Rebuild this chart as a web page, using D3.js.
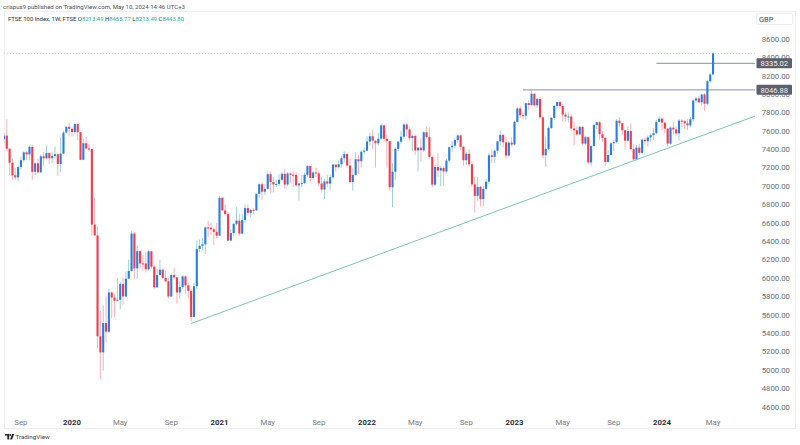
<!DOCTYPE html>
<html><head><meta charset="utf-8">
<script src="https://cdn.jsdelivr.net/npm/d3@7"></script>
<style>body{margin:0;background:#fff}svg{display:block}</style>
</head><body><svg id="c" width="800" height="445"></svg>
<script>
// ---------- DATA (FTSE 100, weekly candles, week starting Monday) ----------
const firstWeek = "2019-07-22";
const opens = [
7509,7549,7407,7254,7117,7095,7207,7282,7367,7345,7426,7155,7247,7150,7324,7302,7359,7303,7327,7346,7240,7353,7582,7645,
7622,7588,7675,7586,7286,7466,7409,7404,6581,6463,5366,5191,5510,5416,5843,5787,5752,5763,5936,5800,5993,6077,6484,6105,6292,6159,6157,6095,6290,6124,5898,6032,6090,6001,5964,5799,6032,6007,5843,5902,6017,5920,5860,5577,5910,6316,6351,6367,6550,6547,6529,6502,
6461,6873,6736,6695,6407,6489,6589,6624,6483,6631,6761,6709,6741,6737,6916,7020,6939,6970,7130,7044,7018,7023,7069,7134,7017,7136,7123,7122,7008,7028,7032,7123,7218,7088,7148,7138,7029,6963,7051,7027,7095,7234,7205,7238,7304,7348,7224,7044,7122,7292,7270,7373,
7385,7485,7542,7494,7466,7516,7661,7514,7489,6987,7156,7405,7483,7538,7670,7616,7521,7545,7388,7418,7390,7585,7533,7318,7016,7208,7169,7196,7159,7277,7423,7440,7501,7551,7427,7281,7351,7237,7019,6894,6991,6858,6970,7048,7335,7318,7385,7487,7556,7476,7332,7473,
7452,7699,7844,7771,7765,7902,7882,8004,7879,7948,7748,7335,7405,7632,7742,7872,7914,7871,7778,7755,7757,7627,7607,7562,7643,7462,7532,7257,7435,7664,7694,7564,7524,7262,7338,7465,7478,7711,7684,7608,7494,7599,7402,7292,7418,7361,7504,7488,7529,7554,7576,7698,
7733,7690,7625,7462,7636,7616,7573,7712,7706,7682,7660,7727,7931,7953,7911,7996,7896,8140,8213.49];
const highs = [
7580,7727,7407,7300,7200,7220,7320,7380,7380,7440,7450,7260,7300,7340,7370,7440,7370,7370,7430,7350,7535,7600,7650,7690,
7640,7689,7680,7590,7520,7534,7460,7404,6870,6560,5640,5700,5800,5880,5850,5830,6000,5960,6000,6070,6200,6511,6500,6350,6300,6250,6286,6300,6290,6140,6100,6200,6100,6080,6000,6050,6110,6010,5960,6030,6030,5950,5880,5950,6410,6420,6436,6560,6620,6600,6550,6600,
6890,6880,6800,6720,6530,6600,6770,6700,6700,6800,6800,6750,6760,6920,7030,7040,7020,7160,7160,7100,7070,7130,7150,7180,7150,7150,7160,7150,7030,7120,7140,7230,7220,7160,7200,7160,7100,7080,7120,7130,7240,7240,7280,7330,7380,7360,7300,7200,7370,7340,7390,7420,
7540,7580,7610,7500,7580,7680,7670,7560,7490,7250,7420,7490,7600,7690,7690,7640,7560,7560,7420,7520,7600,7650,7640,7320,7230,7360,7220,7220,7300,7430,7490,7520,7560,7560,7440,7370,7400,7270,7100,7100,7000,7000,7080,7360,7400,7400,7490,7600,7570,7540,7490,7530,
7710,7860,7870,7800,7910,7930,8047,8010,7960,7970,7760,7540,7650,7750,7880,7920,7930,7890,7800,7800,7790,7700,7650,7660,7650,7550,7540,7450,7680,7700,7710,7600,7530,7390,7480,7500,7730,7750,7690,7610,7650,7680,7460,7450,7460,7520,7530,7550,7570,7630,7720,7760,
7750,7700,7630,7650,7700,7650,7730,7730,7720,7730,7750,7950,7970,7980,8000,8010,8150,8230,8455.77];
const lows = [
7470,7380,7120,7063,7070,7050,7180,7260,7280,7280,7068,7120,7130,7140,7220,7290,7240,7250,7300,7110,7150,7350,7575,7540,
7540,7560,7500,7280,7280,7390,7380,6460,6460,5237,4898,4993,5300,5400,5560,5570,5740,5660,5710,5790,5990,6070,5990,5990,6100,6080,6060,6080,6100,5880,5890,6030,5990,5950,5780,5790,5990,5720,5780,5880,5830,5780,5525,5570,5880,6280,6300,6260,6450,6470,6360,6430,
6460,6730,6680,6400,6400,6450,6570,6460,6480,6600,6680,6660,6700,6730,6870,6850,6900,6960,6920,6930,6990,7000,7050,6970,7000,7030,6990,6990,6840,6990,7020,7100,7050,7070,7100,7000,6930,6860,6990,6960,7080,7160,7190,7200,7260,7200,7030,6950,7110,7130,7200,7350,
7380,7440,7400,7200,7440,7500,7480,7200,6950,6770,7070,7380,7460,7510,7540,7490,7380,7340,7160,7270,7370,7520,7300,6990,7000,7100,7000,7000,7140,7260,7370,7410,7470,7390,7220,7230,7210,6990,6710,6840,6780,6780,6960,7020,7250,7250,7360,7440,7420,7300,7320,7430,
7440,7690,7740,7730,7720,7830,7870,7860,7850,7730,7300,7206,7390,7620,7720,7840,7840,7700,7700,7690,7600,7440,7550,7550,7440,7440,7240,7220,7430,7620,7500,7480,7220,7250,7330,7380,7470,7640,7560,7400,7480,7390,7280,7280,7340,7350,7450,7430,7480,7500,7560,7690,
7610,7580,7430,7450,7560,7550,7500,7640,7620,7610,7640,7700,7900,7900,7880,7820,7880,8120,8213.49];
const closes = [
7549,7407,7254,7117,7095,7207,7282,7367,7345,7426,7155,7247,7150,7324,7302,7359,7303,7327,7346,7240,7353,7582,7645,7622,
7588,7675,7586,7286,7466,7409,7404,6581,6463,5366,5191,5510,5416,5843,5787,5752,5763,5936,5800,5993,6077,6484,6105,6292,6159,6157,6095,6290,6124,5898,6032,6090,6001,5964,5799,6032,6007,5843,5902,6017,5920,5860,5577,5910,6316,6351,6367,6550,6547,6529,6502,6461,
6873,6736,6695,6407,6489,6589,6624,6483,6631,6761,6709,6741,6737,6916,7020,6939,6970,7130,7044,7018,7023,7069,7134,7017,7136,7123,7122,7008,7028,7032,7123,7218,7088,7148,7138,7029,6963,7051,7027,7095,7234,7205,7238,7304,7348,7224,7044,7122,7292,7270,7373,7385,
7485,7542,7494,7466,7516,7661,7514,7489,6987,7156,7405,7483,7538,7670,7616,7521,7545,7388,7418,7390,7585,7533,7318,7016,7208,7169,7196,7159,7277,7423,7440,7501,7551,7427,7281,7351,7237,7019,6894,6991,6858,6970,7048,7335,7318,7385,7487,7556,7476,7332,7473,7452,
7699,7844,7771,7765,7902,7882,8004,7879,7948,7748,7335,7405,7632,7742,7872,7914,7871,7778,7755,7757,7627,7607,7562,7643,7462,7532,7257,7435,7664,7694,7564,7524,7262,7338,7465,7478,7711,7684,7608,7494,7599,7402,7292,7418,7361,7504,7488,7529,7554,7576,7698,7733,
7690,7625,7462,7636,7616,7573,7712,7706,7682,7660,7727,7931,7953,7911,7996,7896,8140,8213,8443.80];

const priceTicks = [4600,4800,5000,5200,5400,5600,5800,6000,6200,6400,6600,6800,7000,7200,7400,7600,7800,8000,8200,8400,8600];
const timeTickDates  = ["2019-09-01","2020-01-01","2020-05-01","2020-09-01","2021-01-01","2021-05-01","2021-09-01","2022-01-01","2022-05-01","2022-09-01","2023-01-01","2023-05-01","2023-09-01","2024-01-01","2024-05-01"];
const timeTickLabels = ["Sep","2020","May","Sep","2021","May","Sep","2022","May","Sep","2023","May","Sep","2024","May"];

const levelValues = [8335.02, 8046.88];
const levelStarts = ["2023-12-18", "2023-01-23"];
const trendDates  = ["2020-10-26", "2024-08-26"];
const trendValues = [5505, 7775];
const lastPrice = 8443.80;

const headerLine1 = "crispus9 published on TradingView.com, May 10, 2024 14:46 UTC+3";
const symbolText = "FTSE 100 Index, 1W, FTSE ";
const ohlcLetters = ["O","H","L","C"];
const ohlcValues = ["8213.49","8455.77","8213.49","8443.80"];

// ---------- DRAW ----------
const parse = d3.timeParse("%Y-%m-%d");
const start = parse(firstWeek);
const weeks = closes.map((_, i) => d3.timeMonday.offset(start, i));
const data = weeks.map((d, i) => ({d, o: opens[i], h: highs[i], l: lows[i], c: closes[i]}));

const svg = d3.select("#c");
const FONT = "Roboto, 'Noto Sans', sans-serif";
const plotL = 4, plotR = 755, frameR = 795, frameT = 11.5, frameB = 428.5;

const x = d3.scaleTime().domain([parse("2020-01-06"), parse("2024-01-01")]).range([72, 662]);
const y = d3.scaleLinear().domain([4600, 8600]).range([406.7, 39]);

svg.append("rect").attr("width", 800).attr("height", 445).attr("fill", "#fff");

// frame
svg.append("rect").attr("x", plotL + 0.5).attr("y", frameT).attr("width", frameR - plotL).attr("height", frameB - frameT)
  .attr("fill", "none").attr("stroke", "#eceef2").attr("stroke-width", 1);

// clip for plot
svg.append("clipPath").attr("id", "clip").append("rect")
  .attr("x", plotL).attr("y", frameT).attr("width", plotR - plotL).attr("height", frameB - frameT);
const plot = svg.append("g").attr("clip-path", "url(#clip)");

// trend line
plot.append("line")
  .attr("x1", x(parse(trendDates[0]))).attr("y1", y(trendValues[0]))
  .attr("x2", x(parse(trendDates[1]))).attr("y2", y(trendValues[1]))
  .attr("stroke", "#7cc3b6").attr("stroke-width", 1);

// last price dotted line
plot.append("line").attr("x1", plotL).attr("x2", plotR).attr("y1", y(lastPrice)).attr("y2", y(lastPrice))
  .attr("stroke", "#b7cdf3").attr("stroke-width", 1).attr("stroke-dasharray", "1,2");

// horizontal levels
levelValues.forEach((v, i) => {
  plot.append("line").attr("x1", x(parse(levelStarts[i]))).attr("x2", plotR)
    .attr("y1", y(v)).attr("y2", y(v)).attr("stroke", "#a3a6af").attr("stroke-width", 1.3);
});

// wicks
plot.selectAll("line.wick").data(data).join("line").attr("class", "wick")
  .attr("x1", d => x(d.d)).attr("x2", d => x(d.d))
  .attr("y1", d => y(d.h)).attr("y2", d => y(d.l))
  .attr("stroke", d => d.c >= d.o ? "#93cdc6" : "#f6a9b1").attr("stroke-width", 0.9);

// bodies
plot.selectAll("rect.body").data(data).join("rect").attr("class", "body")
  .attr("x", d => x(d.d) - 1.05).attr("width", 2.1)
  .attr("y", d => y(Math.max(d.o, d.c)))
  .attr("height", d => Math.max(1, Math.abs(y(d.o) - y(d.c))))
  .attr("fill", d => d.c >= d.o ? "#2a7de1" : "#f23b4c");

// price axis labels
svg.append("g").selectAll("text").data(priceTicks).join("text")
  .attr("x", 790).attr("y", d => y(d) + 2.8).attr("text-anchor", "end")
  .attr("font-family", FONT).attr("font-size", 7.8).attr("fill", "#6a6d78")
  .text(d => d3.format(".2f")(d));

// GBP box
svg.append("rect").attr("x", 756.5).attr("y", 13.5).attr("width", 36).attr("height", 11).attr("rx", 1.5)
  .attr("fill", "#fff").attr("stroke", "#eceef2");
svg.append("text").attr("x", 759).attr("y", 21.8).attr("font-family", FONT).attr("font-size", 7.5)
  .attr("fill", "#4a4d57").text("GBP");

// level boxes on axis
levelValues.forEach(v => {
  svg.append("rect").attr("x", 756.5).attr("y", y(v) - 5).attr("width", 35.5).attr("height", 10)
    .attr("fill", "#5d606b").attr("rx", 1);
  svg.append("text").attr("x", 774.2).attr("y", y(v) + 2.8).attr("text-anchor", "middle")
    .attr("font-family", FONT).attr("font-size", 7.6).attr("fill", "#eef0f4").text(d3.format(".2f")(v));
});

// time axis labels
const tg = svg.append("g");
timeTickDates.forEach((s, i) => {
  const d = d3.timeMonday.ceil(parse(s));
  const isYear = /^\d{4}$/.test(timeTickLabels[i]);
  tg.append("text").attr("x", x(d)).attr("y", 424.5).attr("text-anchor", "middle")
    .attr("font-family", FONT).attr("font-size", 7.8)
    .attr("font-weight", isYear ? 700 : 400)
    .attr("fill", isYear ? "#2a2e39" : "#787b86")
    .text(timeTickLabels[i]);
});

// header
svg.append("text").attr("x", 3).attr("y", 9).attr("font-family", FONT).attr("font-size", 6.2)
  .attr("fill", "#4c4f58").attr("textLength", 182).attr("lengthAdjust", "spacingAndGlyphs").text(headerLine1);
const h2 = svg.append("text").attr("x", 8).attr("y", 21.3).attr("font-family", FONT).attr("font-size", 6.2)
  .attr("fill", "#2a2e39").attr("textLength", 176).attr("lengthAdjust", "spacingAndGlyphs");
h2.append("tspan").text(symbolText + " ");
ohlcLetters.forEach((l, i) => {
  h2.append("tspan").attr("fill", "#2a2e39").text((i ? " " : "") + l);
  h2.append("tspan").attr("fill", "#2aa8a8").text(ohlcValues[i]);
});

// TradingView logo
const logo = svg.append("g").attr("transform", "translate(5,434)");
logo.append("path").attr("d", "M0,0H4.2V5.5H2.3V1.6H0Z").attr("fill", "#1e222d");
logo.append("circle").attr("cx", 5.3).attr("cy", 1.0).attr("r", 0.95).attr("fill", "#1e222d");
logo.append("path").attr("d", "M7.2,0H9.2L7,5.5H5Z").attr("fill", "#1e222d");
svg.append("text").attr("x", 15.5).attr("y", 439.3).attr("font-family", FONT).attr("font-size", 6.2)
  .attr("fill", "#3a3d46").text("TradingView");
</script></body></html>
